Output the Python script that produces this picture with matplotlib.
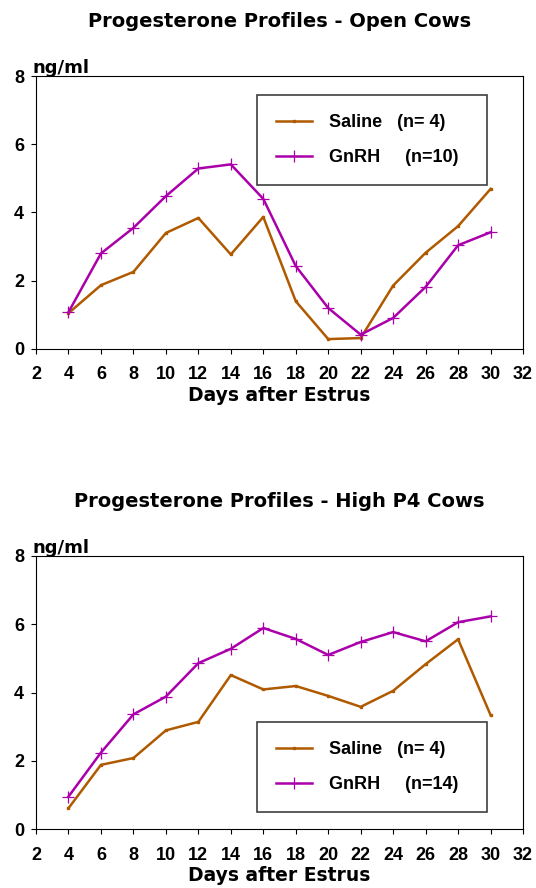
import matplotlib
matplotlib.use('Agg')
import matplotlib.pyplot as plt
import numpy as np

# ================= DATA =================
days = [4, 6, 8, 10, 12, 14, 16, 18, 20, 22, 24, 26, 28, 30]

open_saline = [1.05, 1.87, 2.26, 3.40, 3.84, 2.77, 3.87, 1.40, 0.29, 0.32, 1.86, 2.82, 3.60, 4.69]
open_gnrh   = [1.08, 2.80, 3.55, 4.48, 5.29, 5.41, 4.40, 2.43, 1.20, 0.42, 0.91, 1.82, 3.04, 3.42]

high_saline = [0.61, 1.88, 2.08, 2.89, 3.14, 4.51, 4.09, 4.19, 3.90, 3.58, 4.05, 4.83, 5.56, 3.34]
high_gnrh   = [0.95, 2.24, 3.36, 3.88, 4.86, 5.28, 5.89, 5.57, 5.10, 5.48, 5.77, 5.50, 6.06, 6.23]

titles = ['Progesterone Profiles - Open Cows', 'Progesterone Profiles - High P4 Cows']
saline_labels = ['Saline   (n= 4)', 'Saline   (n= 4)']
gnrh_labels = ['GnRH     (n=10)', 'GnRH     (n=14)']

xticks = list(range(2, 33, 2))
yticks = [0, 2, 4, 6, 8]

BROWN = '#B05A00'
MAGENTA = '#AA00AA'

plt.rcParams['font.family'] = ['Liberation Sans', 'DejaVu Sans']
WIDE = ['DejaVu Sans']

# ================= PLOT =================
fig = plt.figure(figsize=(5.36, 8.88), dpi=100)

axes_pos = [[0.0672, 0.6070, 0.9086, 0.3074],
            [0.0672, 0.0664, 0.9086, 0.3075]]
legend_box = [(0.454, 0.615, 0.472, 0.315),
              (0.454, 0.070, 0.472, 0.322)]

panels = [(open_saline, open_gnrh), (high_saline, high_gnrh)]

for i, (sal, gn) in enumerate(panels):
    ax = fig.add_axes(axes_pos[i])
    ax.plot(days, sal, color=BROWN, lw=1.8, marker='s', ms=1.5,
            label=saline_labels[i])
    ax.plot(days, gn, color=MAGENTA, lw=1.8, marker='+', ms=8, mew=0.9,
            label=gnrh_labels[i])

    ax.set_xlim(2, 32)
    ax.set_ylim(0, 8)
    ax.set_xticks(xticks)
    ax.set_yticks(yticks)
    ax.tick_params(direction='out', length=3.6, width=0.8, labelsize=13)
    ax.tick_params(axis='x', pad=9)
    ax.tick_params(axis='y', pad=5)
    for lab in ax.get_xticklabels() + ax.get_yticklabels():
        lab.set_fontweight('bold')
    for sp in ax.spines.values():
        sp.set_linewidth(0.8)

    ax.set_xlabel('Days after Estrus', fontsize=13.5, fontweight='bold',
                  family=WIDE, labelpad=1.5)
    ax.text(-0.007, 1.01, 'ng/ml', transform=ax.transAxes, fontsize=13,
            fontweight='bold', family=WIDE, ha='left', va='baseline')
    ax.set_title(titles[i], fontsize=14, fontweight='bold', family=WIDE, pad=35)

    leg = ax.legend(loc='upper left', bbox_to_anchor=legend_box[i], mode='expand',
                    borderaxespad=0, fancybox=False, edgecolor='#404040',
                    fontsize=13, handlelength=2.0, handletextpad=0.95,
                    borderpad=1.05, labelspacing=1.0, framealpha=1)
    leg.get_frame().set_linewidth(1.2)
    for t in leg.get_texts():
        t.set_fontweight('bold')

fig.savefig('out.png', dpi=100)
